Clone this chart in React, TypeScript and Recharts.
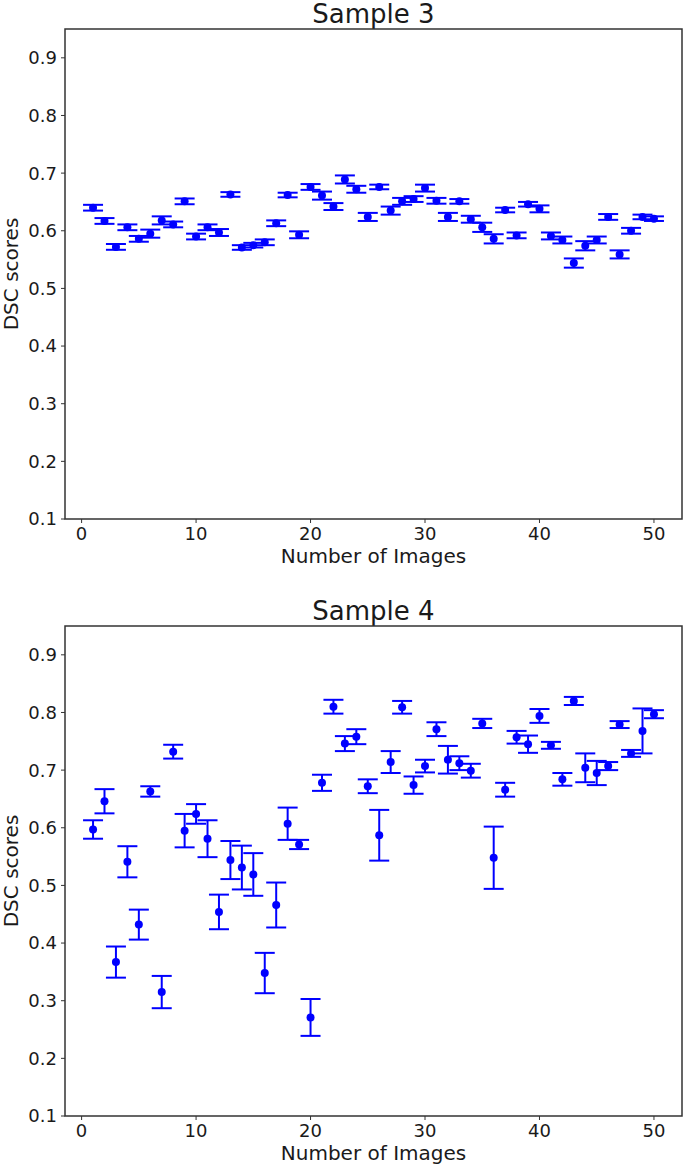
import { ErrorBar, Label, ReferenceArea, Scatter, ScatterChart, XAxis, YAxis } from "recharts";

const imageCounts = [
  1, 2, 3, 4, 5, 6, 7, 8, 9, 10, 11, 12, 13, 14, 15, 16, 17, 18, 19, 20, 21, 22, 23, 24, 25,
  26, 27, 28, 29, 30, 31, 32, 33, 34, 35, 36, 37, 38, 39, 40, 41, 42, 43, 44, 45, 46, 47, 48, 49, 50,
];
const xTicks = [0, 10, 20, 30, 40, 50];
const yTicks = [0.1, 0.2, 0.3, 0.4, 0.5, 0.6, 0.7, 0.8, 0.9];

const sample3Scores = [
  0.64, 0.617, 0.572, 0.606, 0.586, 0.595, 0.618, 0.611, 0.651, 0.59,
  0.606, 0.597, 0.663, 0.571, 0.575, 0.58, 0.613, 0.662, 0.593, 0.676,
  0.661, 0.642, 0.689, 0.672, 0.624, 0.676, 0.635, 0.651, 0.655, 0.674,
  0.652, 0.624, 0.651, 0.62, 0.606, 0.586, 0.636, 0.592, 0.646, 0.638,
  0.591, 0.584, 0.544, 0.574, 0.584, 0.624, 0.559, 0.6, 0.624, 0.621,
];
const sample3Errors = [
  0.005, 0.005, 0.005, 0.005, 0.005, 0.007, 0.007, 0.005, 0.005, 0.005,
  0.005, 0.006, 0.004, 0.004, 0.004, 0.005, 0.005, 0.004, 0.006, 0.005,
  0.007, 0.006, 0.007, 0.006, 0.007, 0.004, 0.007, 0.006, 0.005, 0.006,
  0.005, 0.007, 0.004, 0.006, 0.008, 0.008, 0.004, 0.005, 0.004, 0.006,
  0.006, 0.006, 0.008, 0.008, 0.006, 0.005, 0.007, 0.005, 0.004, 0.004,
];

const sample4Scores = [
  0.597, 0.646, 0.367, 0.541, 0.432, 0.663, 0.315, 0.732, 0.595, 0.624,
  0.581, 0.454, 0.544, 0.531, 0.519, 0.348, 0.466, 0.607, 0.571, 0.271,
  0.678, 0.81, 0.746, 0.758, 0.672, 0.587, 0.714, 0.809, 0.674, 0.707,
  0.771, 0.718, 0.712, 0.699, 0.781, 0.548, 0.666, 0.757, 0.745, 0.794,
  0.743, 0.684, 0.82, 0.704, 0.695, 0.707, 0.779, 0.729, 0.768, 0.797,
];
const sample4Errors = [
  0.016, 0.021, 0.027, 0.027, 0.026, 0.009, 0.028, 0.012, 0.029, 0.017,
  0.032, 0.03, 0.033, 0.038, 0.037, 0.035, 0.039, 0.028, 0.008, 0.032,
  0.014, 0.012, 0.013, 0.013, 0.012, 0.044, 0.019, 0.011, 0.015, 0.011,
  0.012, 0.024, 0.012, 0.012, 0.008, 0.054, 0.012, 0.011, 0.015, 0.012,
  0.006, 0.011, 0.007, 0.025, 0.021, 0.007, 0.006, 0.006, 0.039, 0.007,
];

const FONT = "'DejaVu Sans', sans-serif";
const BLUE = "#0000ff";
const INK = "#1a1a1a";

function Marker(props: any) {
  if (props.cx == null || props.cy == null) return null;
  return <circle cx={props.cx} cy={props.cy} r={4} fill={BLUE} />;
}

function SamplePanel({ title, scores, errors, top }: { title: string; scores: number[]; errors: number[]; top: number }) {
  const data = imageCounts.map((n, i) => ({ n, score: scores[i], err: errors[i] }));
  const tick = { fill: INK, fontSize: 18, fontFamily: FONT };
  return (
    <div style={{ position: "absolute", left: 0, top, width: 685, height: 585 }}>
      <div
        style={{
          position: "absolute",
          left: 65,
          width: 617,
          top: -1,
          textAlign: "center",
          fontFamily: FONT,
          fontSize: 26,
          lineHeight: "30px",
          color: INK,
        }}
      >
        {title}
      </div>
      <ScatterChart width={685} height={585} margin={{ top: 29, right: 3, bottom: 20, left: 0 }}>
        <XAxis
          type="number"
          dataKey="n"
          domain={[-1.45, 52.45]}
          ticks={xTicks}
          allowDataOverflow
          axisLine={false}
          tickSize={4}
          tickMargin={4}
          stroke="#333"
          height={46}
          tick={tick}
        >
          <Label
            value="Number of Images"
            position="insideBottom"
            offset={2}
            style={{ fill: INK, fontSize: 20, fontFamily: FONT }}
          />
        </XAxis>
        <YAxis
          type="number"
          dataKey="score"
          domain={[0.1, 0.95]}
          ticks={yTicks}
          allowDataOverflow
          axisLine={false}
          tickSize={4}
          tickMargin={4}
          stroke="#333"
          width={65}
          tick={tick}
          tickFormatter={(v: number) => v.toFixed(1)}
        >
          <Label
            value="DSC scores"
            angle={-90}
            position="insideLeft"
            offset={11}
            style={{ fill: INK, fontSize: 20, fontFamily: FONT, textAnchor: "middle" }}
          />
        </YAxis>
        <ReferenceArea
          x1={-1.45}
          x2={52.45}
          y1={0.1}
          y2={0.95}
          ifOverflow="visible"
          fill="none"
          stroke="#333"
          strokeWidth={1.5}
        />
        <Scatter data={data} shape={<Marker />} isAnimationActive={false}>
          <ErrorBar
            dataKey="err"
            direction="y"
            width={10}
            stroke={BLUE}
            strokeWidth={2}
            isAnimationActive={false}
          />
        </Scatter>
      </ScatterChart>
    </div>
  );
}

export default function App() {
  return (
    <div style={{ position: "absolute", left: 0, top: 0, width: 685, height: 1170, background: "#fff" }}>
      <SamplePanel title="Sample 3" scores={sample3Scores} errors={sample3Errors} top={0} />
      <SamplePanel title="Sample 4" scores={sample4Scores} errors={sample4Errors} top={597} />
    </div>
  );
}
